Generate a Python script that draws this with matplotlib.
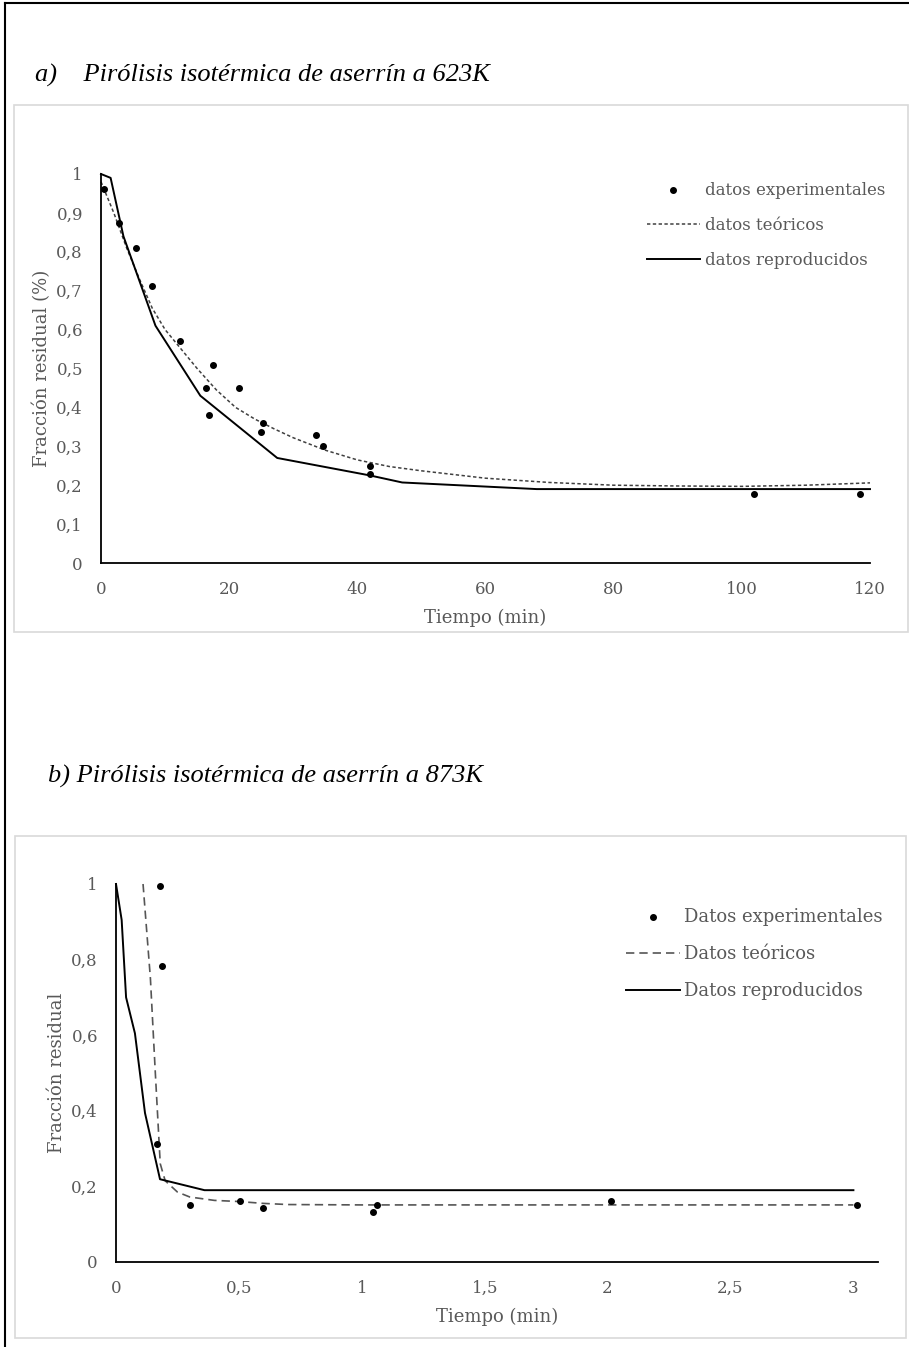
import matplotlib
matplotlib.use("Agg")
import matplotlib.pyplot as plt
from matplotlib.lines import Line2D
from matplotlib.patches import Rectangle

# Panel a: 623 K
exp_a_t = [0.5, 2.8, 5.4, 7.9, 12.3, 16.4, 16.9, 17.5, 21.6, 25.0, 25.3, 33.6, 34.6, 42.0, 42.0, 101.9, 118.5]
exp_a_y = [0.962, 0.874, 0.81, 0.711, 0.571, 0.45, 0.38, 0.508, 0.45, 0.338, 0.36, 0.33, 0.30, 0.25, 0.228, 0.178, 0.178]

teo_a_t = [0, 2, 4, 6, 8, 10, 12, 15, 18, 21, 24, 27, 30, 35, 40, 45, 50, 60, 70, 80, 90, 100, 110, 120]
teo_a_y = [0.98, 0.90, 0.81, 0.73, 0.655, 0.60, 0.56, 0.50, 0.445, 0.40, 0.37, 0.345, 0.322, 0.29, 0.265, 0.248, 0.237, 0.218, 0.207, 0.200, 0.198, 0.197, 0.200, 0.206]

rep_a_t = [0, 1.5, 3.5, 8.5, 15.5, 27.5, 42, 47, 68, 120]
rep_a_y = [1.0, 0.99, 0.84, 0.61, 0.43, 0.27, 0.225, 0.207, 0.19, 0.19]

# Panel b: 873 K
exp_b_t = [0.177, 0.189, 0.168, 0.302, 0.503, 0.60, 1.06, 1.046, 2.014, 3.015]
exp_b_y = [0.995, 0.783, 0.312, 0.151, 0.162, 0.142, 0.151, 0.133, 0.162, 0.151]

teo_b_t = [0.11, 0.14, 0.16, 0.18, 0.2, 0.25, 0.3, 0.4, 0.5, 0.6, 0.7, 1.0, 1.5, 2.0, 2.5, 3.0]
teo_b_y = [1.0, 0.75, 0.5, 0.26, 0.215, 0.185, 0.172, 0.163, 0.16, 0.155, 0.152, 0.151, 0.151, 0.151, 0.151, 0.151]

rep_b_t = [0, 0.023, 0.041, 0.077, 0.118, 0.179, 0.36, 3.0]
rep_b_y = [1.0, 0.905, 0.70, 0.605, 0.394, 0.219, 0.19, 0.19]

W, H = 909, 1347
gray = "#595959"
tick_font = "DejaVu Serif"
title_font = "Liberation Serif"


def px_axes(fig, x0, y0, x1, y1):
    # pixel box (top-left origin) -> figure axes
    return fig.add_axes([x0 / W, (H - y1) / H, (x1 - x0) / W, (y1 - y0) / H])


def comma(v):
    return ("%g" % v).replace(".", ",")


def style_axes(ax, xticks, yticks, xlabel, ylabel):
    for s in ["top", "right"]:
        ax.spines[s].set_visible(False)
    for s in ["left", "bottom"]:
        ax.spines[s].set_color("black")
        ax.spines[s].set_linewidth(1.3)
    ax.set_xticks(xticks)
    ax.set_xticklabels([comma(v) for v in xticks])
    ax.set_yticks(yticks)
    ax.set_yticklabels([comma(v) for v in yticks])
    ax.tick_params(length=0, labelsize=12, labelcolor=gray, pad=13)
    for lab in ax.get_xticklabels() + ax.get_yticklabels():
        lab.set_family(tick_font)
    ax.set_xlabel(xlabel, fontsize=13, color=gray, family=tick_font, labelpad=8)
    ax.set_ylabel(ylabel, fontsize=13, color=gray, family=tick_font, labelpad=4)


fig = plt.figure(figsize=(W / 100, H / 100), dpi=100)

# outer page border (left and top)
fig.add_artist(Line2D([5 / W, 5 / W], [0, 1 - 3 / H], color="black", lw=1.5))
fig.add_artist(Line2D([5 / W, 1], [1 - 3 / H, 1 - 3 / H], color="black", lw=1.5))

# chart area boxes
fig.add_artist(Rectangle((14 / W, (H - 632) / H), (908 - 14) / W, (632 - 105) / H,
                         transform=fig.transFigure, fill=False, edgecolor="#d9d9d9", lw=1.2))
fig.add_artist(Rectangle((15 / W, (H - 1338) / H), (906 - 15) / W, (1338 - 836) / H,
                         transform=fig.transFigure, fill=False, edgecolor="#d9d9d9", lw=1.2))

fig.text(35 / W, 1 - 75 / H, "a)    Pirólisis isotérmica de aserrín a 623K", family=title_font,
         style="italic", fontsize=19, va="center", ha="left")
fig.text(48 / W, 1 - 776 / H, "b) Pirólisis isotérmica de aserrín a 873K", family=title_font,
         style="italic", fontsize=19, va="center", ha="left")

# ---- panel a
ax1 = px_axes(fig, 101, 174, 870, 563)
ax1.plot(teo_a_t, teo_a_y, color="#404040", lw=1.1, linestyle=(0, (2.2, 1.6)),
         label="datos teóricos", clip_on=False)
ax1.plot(rep_a_t, rep_a_y, color="black", lw=1.4, label="datos reproducidos", clip_on=False)
ax1.scatter(exp_a_t, exp_a_y, s=16, color="black", label="datos experimentales", zorder=3, clip_on=False)
ax1.set_xlim(0, 120)
ax1.set_ylim(0, 1)
style_axes(ax1, [0, 20, 40, 60, 80, 100, 120], [0, 0.1, 0.2, 0.3, 0.4, 0.5, 0.6, 0.7, 0.8, 0.9, 1],
           "Tiempo (min)", "Fracción residual (%)")
h, l = ax1.get_legend_handles_labels()
ax1.legend([h[2], h[0], h[1]], [l[2], l[0], l[1]], loc="upper left",
           bbox_to_anchor=(640 / W, 1 - 175 / H), bbox_transform=fig.transFigure,
           frameon=False, handlelength=3.2, handletextpad=0.3, labelspacing=1.08,
           prop={"family": tick_font, "size": 12}, labelcolor=gray, borderaxespad=0)

# ---- panel b
ax2 = px_axes(fig, 116, 884, 878, 1262)
ax2.plot(teo_b_t, teo_b_y, color="#555555", lw=1.2, linestyle=(0, (5, 3)),
         label="Datos teóricos", clip_on=False)
ax2.plot(rep_b_t, rep_b_y, color="black", lw=1.4, label="Datos reproducidos", clip_on=False)
ax2.scatter(exp_b_t, exp_b_y, s=16, color="black", label="Datos experimentales", zorder=3, clip_on=False)
ax2.set_xlim(0, 3.1)
ax2.set_ylim(0, 1)
style_axes(ax2, [0, 0.5, 1, 1.5, 2, 2.5, 3], [0, 0.2, 0.4, 0.6, 0.8, 1],
           "Tiempo (min)", "Fracción residual")
h, l = ax2.get_legend_handles_labels()
ax2.legend([h[2], h[0], h[1]], [l[2], l[0], l[1]], loc="upper left",
           bbox_to_anchor=(619 / W, 1 - 901 / H), bbox_transform=fig.transFigure,
           frameon=False, handlelength=3.0, handletextpad=0.2, labelspacing=1.05,
           prop={"family": tick_font, "size": 13}, labelcolor=gray, borderaxespad=0)

fig.savefig("out.png", dpi=100)
